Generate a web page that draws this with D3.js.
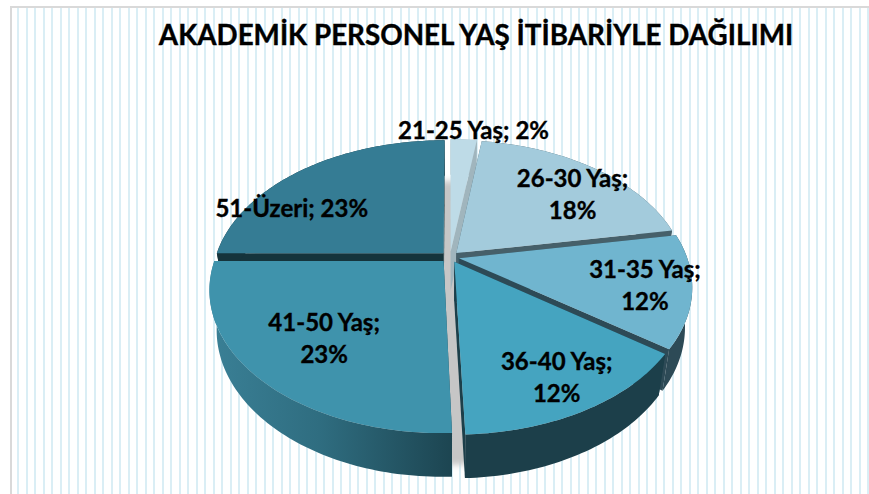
<!DOCTYPE html>
<html>
<head>
<meta charset="utf-8">
<script src="https://cdn.jsdelivr.net/npm/d3@7"></script>
<style>
  html, body { margin: 0; padding: 0; background: #fff; }
  svg { display: block; }
  text { font-family: Lato, "Noto Sans", sans-serif; font-weight: 700; fill: #000; stroke: #000; stroke-width: 0.35px; }
</style>
</head>
<body>
<svg id="chart" width="869" height="494"></svg>
<script>
// chart data
const titleText = "AKADEMİK PERSONEL YAŞ İTİBARİYLE DAĞILIMI";
const groups = ["21-25 Yaş", "26-30 Yaş", "31-35 Yaş", "36-40 Yaş", "41-50 Yaş", "51-Üzeri"];
const percentLabels = ["2%", "18%", "12%", "12%", "23%", "23%"];
// labels are rounded, these are the slice sizes as they read in the picture
const shares = [2, 18, 11.5, 13, 23, 22.5];

// colours per slice
const topColors = ["#bedbe7", "#a3cbdc", "#70b5cf", "#45a4c0", "#3f93ac", "#357c94"];
const wallColors = ["#a0b5bd", "#46606a", "#2d4a56", "#1c3f4a", "#1f4a57", "#15343c"];

// layout of the tilted pie
const WIDTH = 869, HEIGHT = 494;
const CX = 450, CY = 257, RX = 228, RY = 136.5;
const PERSPECTIVE = 0.197, EXPLODE = 0.04, DEPTH = 39, LOWER_SCALE = 0.97;

// label centre relative to the point at 60% of the radius, and the line split
const labelNudge = [[15, -53], [35, -8], [58, 10], [35, 40], [-22, 17], [-69, 5]];
const labelLines = [1, 2, 2, 2, 2, 1];

const svg = d3.select("#chart");
const defs = svg.append("defs");

defs.append("filter").attr("id", "soft").attr("x", "-10%").attr("y", "-10%").attr("width", "120%").attr("height", "120%")
  .append("feGaussianBlur").attr("stdDeviation", 3);

const rimGrad = defs.append("linearGradient").attr("id", "rim-41")
  .attr("gradientUnits", "userSpaceOnUse")
  .attr("x1", 209).attr("x2", 455).attr("y1", 0).attr("y2", 0);
rimGrad.append("stop").attr("offset", "0%").attr("stop-color", "#3a8096");
rimGrad.append("stop").attr("offset", "45%").attr("stop-color", "#2f6d80");
rimGrad.append("stop").attr("offset", "100%").attr("stop-color", "#1c4450");

// background stripes and frame
const stripes = d3.range(17, WIDTH, 8.5);
svg.append("g").selectAll("rect")
  .data(stripes)
  .join("rect")
  .attr("x", d => Math.round(d))
  .attr("y", 7)
  .attr("width", 2)
  .attr("height", HEIGHT - 7)
  .attr("fill", "#daeef5");

svg.append("path")
  .attr("d", `M11,${HEIGHT}V7H${WIDTH}`)
  .attr("fill", "none")
  .attr("stroke", "#d9d9d9")
  .attr("stroke-width", 2);

// plane point -> screen point, angle measured clockwise from 12 o'clock
function project (angle, r, mid, lower) {
  const u = r * Math.sin(angle) + (mid === null ? 0 : EXPLODE * Math.sin(mid));
  const v = -r * Math.cos(angle) - (mid === null ? 0 : EXPLODE * Math.cos(mid));
  const s = 1 / (1 - PERSPECTIVE * v);
  const k = lower ? LOWER_SCALE : 1;
  return [CX + RX * u * s * k, CY + RY * v * s + (lower ? DEPTH * Math.sqrt(s) : 0)];
}

const line = d3.line();
const pie = d3.pie().sort(null).value(d => d);
const slices = pie(shares).map((d, i) => ({
  i: i,
  a0: d.startAngle,
  a1: d.endAngle,
  mid: (d.startAngle + d.endAngle) / 2
}));

function arcAngles (a0, a1) {
  const n = Math.max(4, Math.ceil((a1 - a0) / 0.02));
  return d3.range(n + 1).map(k => a0 + (a1 - a0) * k / n);
}

// shadow of the whole pie, it shows through the gaps and under the front edge
const shadowPts = arcAngles(0, 2 * Math.PI).map(a => {
  const p = project(a, 1.0, null, false);
  return [CX + (p[0] - CX) * LOWER_SCALE, p[1] + 38];
});
svg.append("path")
  .attr("d", line(shadowPts) + "Z")
  .attr("fill", "#c6c6c6")
  .attr("filter", "url(#soft)");

// draw back slices first
const order = [5, 0, 1, 2, 4, 3];
const pieG = svg.append("g");

order.forEach(idx => {
  const d = slices[idx];
  const g = pieG.append("g").attr("class", "slice");
  const angles = arcAngles(d.a0, d.a1);
  const wall = wallColors[idx];

  // cut faces
  [d.a0, d.a1].forEach(a => {
    g.append("path")
      .attr("d", line([
        project(a, 0, d.mid, false),
        project(a, 1, d.mid, false),
        project(a, 1, d.mid, true),
        project(a, 0, d.mid, true)
      ]) + "Z")
      .attr("fill", wall);
  });

  // outer rim
  const rimTop = angles.map(a => project(a, 1, d.mid, false));
  const rimLow = angles.map(a => project(a, 1, d.mid, true)).reverse();
  g.append("path")
    .attr("d", line(rimTop.concat(rimLow)) + "Z")
    .attr("fill", idx === 4 ? "url(#rim-41)" : wall);

  // top face
  const top = [project(0, 0, d.mid, false)].concat(rimTop);
  g.append("path")
    .attr("d", line(top) + "Z")
    .attr("fill", topColors[idx]);
});

// title
svg.append("text")
  .attr("x", 476)
  .attr("y", 45)
  .attr("text-anchor", "middle")
  .style("font-size", "27.8px")
  .text(titleText);

// data labels
const labelG = svg.append("g");
slices.forEach(d => {
  const i = d.i;
  const p = project(d.mid, 0.6, null, false);
  const x = p[0] + labelNudge[i][0];
  const y = p[1] + labelNudge[i][1];
  const rows = labelLines[i] === 1 ? [groups[i] + "; " + percentLabels[i]] : [groups[i] + ";", percentLabels[i]];
  rows.forEach((t, k) => {
    labelG.append("text")
      .attr("x", x)
      .attr("y", y + (k - (rows.length - 1) / 2) * 32)
      .attr("dy", "0.35em")
      .attr("text-anchor", "middle")
      .style("font-size", "24px")
      .text(t);
  });
});
</script>
</body>
</html>
